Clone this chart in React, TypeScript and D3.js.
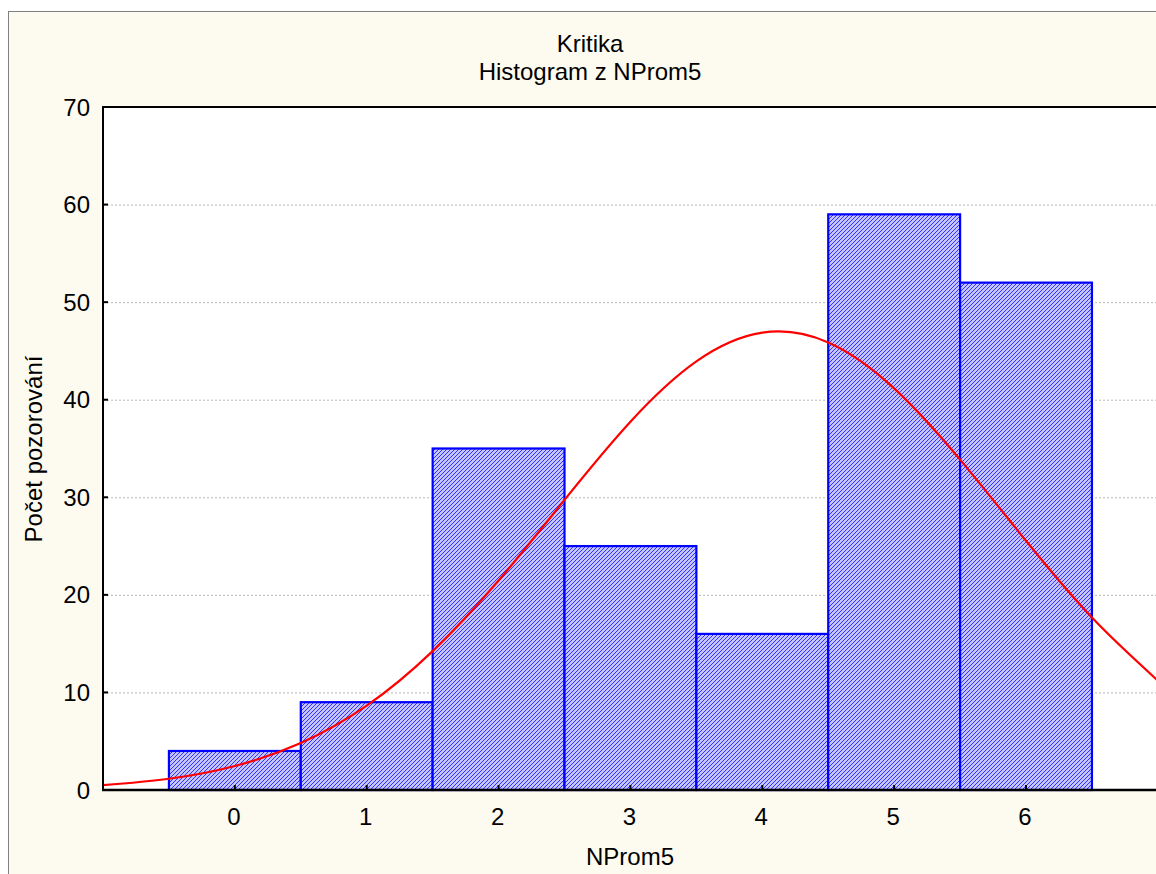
import React from "react";
import * as d3 from "d3";

// Histogram bins (class values) and counts
const BIN_VALUES = [0, 1, 2, 3, 4, 5, 6];
const BIN_COUNTS = [4, 9, 35, 25, 16, 59, 52];

// Expected normal frequencies along the x axis
const CURVE_X = [-1, -0.5, 0, 0.5, 1, 1.5, 2, 2.5, 3, 3.5, 4, 4.5, 5, 5.5, 6, 6.5, 7];
const CURVE_Y = [0.49, 1.15, 2.46, 4.81, 8.64, 14.23, 21.47, 29.73, 37.74, 43.92, 46.87, 45.87, 41.16, 33.86, 25.54, 17.67, 11.21];

const Y_TICKS = [0, 10, 20, 30, 40, 50, 60, 70];
const X_TICKS = [0, 1, 2, 3, 4, 5, 6];

const TITLE = "Kritika";
const SUBTITLE = "Histogram z NProm5";
const X_LABEL = "NProm5";
const Y_LABEL = "Počet pozorování";

const W = 1156;
const H = 874;
const FONT = "'Liberation Sans', Arial, sans-serif";
const FS = 24;

export default function App() {
  const left = 103;
  const top = 107;
  const bottom = 790;
  const x = d3.scaleLinear().domain([-1, 7]).range([left, left + 8 * 131.86]);
  const y = d3.scaleLinear().domain([0, 70]).range([bottom, top]);
  const right = x(7);

  const line = d3
    .line<number>()
    .x((_, i) => x(CURVE_X[i]))
    .y((d) => y(d))
    .curve(d3.curveNatural);

  return (
    <svg
      width={W}
      height={H}
      style={{ position: "absolute", left: 0, top: 0, display: "block" }}
      fontFamily={FONT}
    >
      <defs>
        <pattern id="hatch" width={4} height={4} patternUnits="userSpaceOnUse">
          <rect width={4} height={4} fill="#c4c4ff" />
          <path d="M-1,1 l2,-2 M0,4 l4,-4 M3,5 l2,-2" stroke="#3030ff" strokeWidth={1} />
        </pattern>
        <clipPath id="plotClip">
          <rect x={left} y={top} width={right - left} height={bottom - top} />
        </clipPath>
      </defs>
      <rect x={0} y={0} width={W} height={H} fill="#ffffff" />
      <rect x={8.5} y={11.5} width={W} height={H} fill="#fdfbf0" stroke="#808080" strokeWidth={1} />
      <rect x={left} y={top} width={right - left} height={bottom - top} fill="#ffffff" />

      {/* horizontal grid */}
      {Y_TICKS.filter((t) => t > 0 && t < 70).map((t) => (
        <line
          key={"g" + t}
          x1={left}
          x2={right}
          y1={y(t) + 0.5}
          y2={y(t) + 0.5}
          stroke="#b8b8b8"
          strokeWidth={1}
          strokeDasharray="2,2"
        />
      ))}

      {/* bars */}
      {BIN_VALUES.map((v, i) => (
        <rect
          key={"b" + v}
          x={x(v - 0.5)}
          y={y(BIN_COUNTS[i])}
          width={x(v + 0.5) - x(v - 0.5)}
          height={bottom - y(BIN_COUNTS[i])}
          fill="url(#hatch)"
          stroke="#0000ff"
          strokeWidth={2.2}
        />
      ))}

      {/* fitted curve */}
      <g clipPath="url(#plotClip)">
        <path d={line(CURVE_Y) || ""} fill="none" stroke="#ff0000" strokeWidth={2.2} />
      </g>

      {/* frame */}
      <line x1={left} x2={left} y1={top - 1} y2={bottom + 1} stroke="#000" strokeWidth={2} />
      <line x1={left - 1} x2={right} y1={bottom} y2={bottom} stroke="#000" strokeWidth={2.5} />
      <line x1={left - 1} x2={right} y1={top} y2={top} stroke="#000" strokeWidth={2} />

      {/* y ticks */}
      {Y_TICKS.map((t) => (
        <g key={"y" + t}>
          {t > 0 && t < 70 && (
            <line x1={left} x2={left + 5} y1={y(t)} y2={y(t)} stroke="#000" strokeWidth={2} />
          )}
          <text x={90} y={y(t)} dy="0.36em" textAnchor="end" fontSize={FS} fill="#000">
            {t}
          </text>
        </g>
      ))}

      {/* x ticks */}
      {X_TICKS.map((t) => (
        <g key={"x" + t}>
          <line x1={x(t)} x2={x(t)} y1={bottom} y2={bottom - 5} stroke="#000" strokeWidth={2} />
          <text x={x(t) - 1} y={825} textAnchor="middle" fontSize={FS} fill="#000">
            {t}
          </text>
        </g>
      ))}

      {/* titles */}
      <text x={590} y={52} textAnchor="middle" fontSize={FS} fill="#000">
        {TITLE}
      </text>
      <text x={590} y={80} textAnchor="middle" fontSize={FS} fill="#000">
        {SUBTITLE}
      </text>
      <text x={630} y={865} textAnchor="middle" fontSize={FS} fill="#000">
        {X_LABEL}
      </text>
      <text
        transform={`translate(42, ${449}) rotate(-90)`}
        textAnchor="middle"
        fontSize={FS}
        fill="#000"
      >
        {Y_LABEL}
      </text>
    </svg>
  );
}
